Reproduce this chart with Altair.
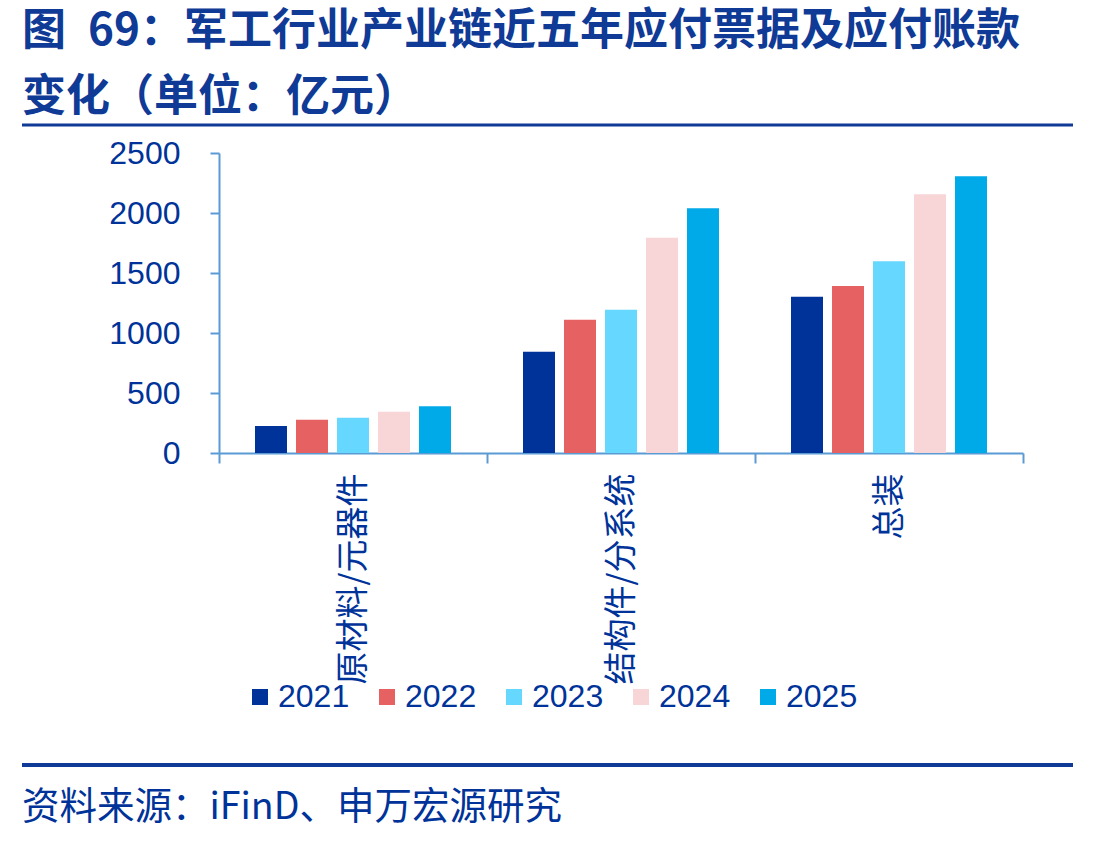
import altair as alt
import pandas as pd

# Payables (notes + accounts payable) along the defense industry chain, 100M CNY
categories = ["原材料/元器件", "结构件/分系统", "总装"]
years = ["2021", "2022", "2023", "2024", "2025"]
values_2021 = [225, 844, 1303]
values_2022 = [278, 1111, 1392]
values_2023 = [294, 1194, 1597]
values_2024 = [344, 1794, 2156]
values_2025 = [389, 2039, 2306]
year_colors = ["#003399", "#E66161", "#66D7FF", "#F8D5D6", "#00AAE9"]
y_ticks = [0, 500, 1000, 1500, 2000, 2500]

title_lines = ["图\u200269：军工行业产业链近五年应付票据及应付账款", "变化（单位：亿元）"]
source_text = "资料来源：iFinD、申万宏源研究"

series = [values_2021, values_2022, values_2023, values_2024, values_2025]
rows = []
for year, vals in zip(years, series):
    for cat, v in zip(categories, vals):
        rows.append({"segment": cat, "year": year, "value": v})
df = pd.DataFrame(rows)

NAVY = "#003399"
TITLE_BLUE = "#0F3A96"
AXIS_BLUE = "#5B9BD5"
CJK = "Noto Sans CJK SC"
LATIN = "Liberation Sans"

PLOT_W, PLOT_H = 804, 300
PAD_L, PAD_T = 219, 153

bars = alt.Chart(df).mark_bar().encode(
    x=alt.X(
        "segment:N",
        sort=categories,
        scale=alt.Scale(paddingInner=0, paddingOuter=0),
        axis=alt.Axis(
            title=None,
            labelAngle=270,
            labelAlign="right",
            labelBaseline="middle",
            labelFont=CJK,
            labelFontSize=33,
            labelColor=NAVY,
            labelPadding=10,
            labelLimit=400,
            tickBand="extent",
            tickSize=10,
            tickWidth=2,
            tickColor=AXIS_BLUE,
            domainColor=AXIS_BLUE,
            domainWidth=2,
        ),
    ),
    xOffset=alt.XOffset(
        "year:N",
        sort=years,
        scale=alt.Scale(paddingInner=0.2195, paddingOuter=0.878),
    ),
    y=alt.Y(
        "value:Q",
        scale=alt.Scale(domain=[0, 2500], nice=False),
        axis=alt.Axis(
            title=None,
            values=y_ticks,
            format="d",
            grid=False,
            labelFont=LATIN,
            labelFontSize=32,
            labelColor=NAVY,
            labelPadding=30,
            tickSize=9,
            tickWidth=2,
            tickColor=AXIS_BLUE,
            domainColor=AXIS_BLUE,
            domainWidth=2,
        ),
    ),
    color=alt.Color(
        "year:N",
        sort=years,
        scale=alt.Scale(domain=years, range=year_colors),
        legend=alt.Legend(
            title=None,
            orient="none",
            legendX=25,
            legendY=528,
            direction="horizontal",
            columns=5,
            columnPadding=21,
            labelOffset=2,
            labelFont=LATIN,
            labelFontSize=32,
            labelColor=NAVY,
            symbolType="square",
            symbolSize=256,
            symbolStrokeWidth=0,
        ),
    ),
)

one_row = alt.Data(values=[{}])

# Header and footer text, positioned relative to the plot area
title_1 = alt.Chart(one_row).mark_text(
    text=title_lines[0], align="left", baseline="middle",
    font=CJK, fontSize=44, fontWeight="bold", color=TITLE_BLUE,
).encode(x=alt.value(22 - PAD_L), y=alt.value(32 - PAD_T))

title_2 = alt.Chart(one_row).mark_text(
    text=title_lines[1], align="left", baseline="middle",
    font=CJK, fontSize=44, fontWeight="bold", color=TITLE_BLUE,
).encode(x=alt.value(22 - PAD_L), y=alt.value(98 - PAD_T))

source = alt.Chart(one_row).mark_text(
    text=source_text, align="left", baseline="middle",
    font=CJK, fontSize=37.5, color=NAVY,
).encode(x=alt.value(22 - PAD_L), y=alt.value(808 - PAD_T))

# Horizontal separator lines under the title and above the source note
top_line = alt.Chart(one_row).mark_rule(color=TITLE_BLUE, strokeWidth=3).encode(
    x=alt.value(22 - PAD_L), x2=alt.value(1073 - PAD_L), y=alt.value(125 - PAD_T)
)
bottom_line = alt.Chart(one_row).mark_rule(color=TITLE_BLUE, strokeWidth=4).encode(
    x=alt.value(22 - PAD_L), x2=alt.value(1073 - PAD_L), y=alt.value(765 - PAD_T)
)

chart = (
    alt.layer(bars, title_1, title_2, source, top_line, bottom_line)
    .properties(
        width=PLOT_W,
        height=PLOT_H,
        autosize="none",
        padding={"left": PAD_L, "top": PAD_T, "right": 1120 - PAD_L - PLOT_W, "bottom": 842 - PAD_T - PLOT_H},
        background="white",
    )
    .configure_view(strokeWidth=0)
)

chart.save("out.html", embed_options={"renderer": "svg", "actions": False})
